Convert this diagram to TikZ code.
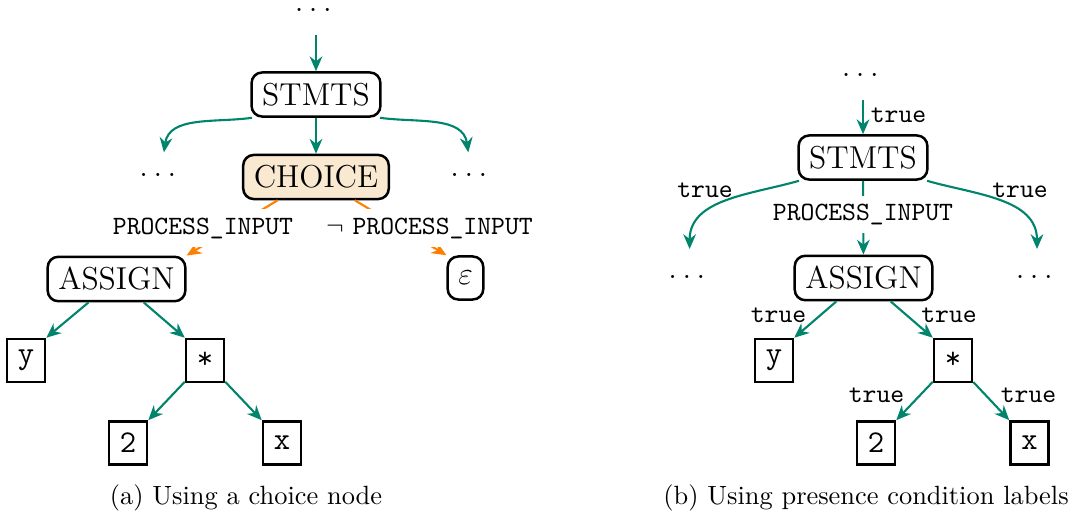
\documentclass[tikz,border=0pt]{standalone}
\usetikzlibrary{arrows.meta}

\definecolor{edgegreen}{RGB}{0,133,108}
\definecolor{condorange}{RGB}{255,128,0}
\definecolor{choicefill}{RGB}{249,233,208}

% spaced ellipsis: three periods with a kern after each
\newcommand{\spdots}{.\kern2.1pt.\kern2.1pt.\kern2.1pt}

\tikzset{
  rnode/.style={draw, line width=0.95pt, rounded corners=4pt, font=\large, inner sep=4pt, minimum height=16.3pt},
  leaf/.style={draw, line width=0.95pt, font=\large\ttfamily, inner sep=4pt, minimum height=16.3pt, minimum width=14.4pt},
  dotsnode/.style={font=\large, inner sep=0pt, text height=9pt, text depth=8.5pt, anchor=base},
  tip/.style={-{Stealth[length=5.6pt,width=4.8pt]}},
  gedge/.style={tip, thick, draw=edgegreen},
  oedge/.style={tip, thick, draw=condorange},
  cond/.style={fill=white, inner xsep=2pt, inner ysep=3.2pt},
  pclabel/.style={font=\ttfamily, inner sep=0pt},
  caption/.style={anchor=base}
}

\begin{document}
\begin{tikzpicture}[x=0.3788pt, y=-0.3788pt]
\useasboundingbox (0,0) rectangle (1092,515);

% ---------- (a) choice node ----------
\node[dotsnode, text height=3pt] (topA) at (316,11.6) {\spdots};
\node[rnode] (stmtsA) at (316,94.5) {STMTS};
\node[dotsnode] (leftA) at (160.6,176.6) {\spdots};
\node[rnode, fill=choicefill] (choice) at (316,177) {CHOICE};
\node[dotsnode] (rightA) at (471.6,176.6) {\spdots};
\node[rnode] (assignA) at (116.5,279) {ASSIGN};
\node[rnode] (eps) at (465.5,278) {$\varepsilon$};
\node[leaf] (yA) at (26,360.5) {y};
\node[leaf] (starA) at (205,360.5) {*};
\node[leaf] (twoA) at (128,443) {2};
\node[leaf] (xA) at (282,443) {x};

\draw[gedge] (topA) -- (stmtsA);
\draw[gedge] (stmtsA) -- (choice);
\draw[gedge] (stmtsA.200) to[out=188, in=82] (leftA);
\draw[gedge] (stmtsA.340) to[out=-8, in=98] (rightA);

\draw[oedge] (choice) -- (assignA.north east);
\draw[oedge] (choice) -- (eps.north west);
\node[cond] (pA) at (203,228) {\texttt{PROCESS\_INPUT}};
\node[cond] (npA) at (429.5,228) {$\neg$ \texttt{PROCESS\_INPUT}};

\draw[gedge] (assignA) -- (yA.north east);
\draw[gedge] (assignA) -- (starA.north west);
\draw[gedge] (starA) -- (twoA.north east);
\draw[gedge] (starA) -- (xA.north west);

\node[caption] (capA) at (246,504) {(a) Using a choice node};

% ---------- (b) presence condition labels ----------
\node[dotsnode] (topB) at (863,76.6) {\spdots};
\node[rnode] (stmtsB) at (863,157.5) {STMTS};
\node[dotsnode, text height=11pt] (leftB) at (689.6,278.6) {\spdots};
\node[rnode] (assignB) at (863.5,278) {ASSIGN};
\node[dotsnode, text height=11pt] (rightB) at (1037,278.6) {\spdots};
\node[leaf] (yB) at (774,360.5) {y};
\node[leaf] (starB) at (953,360.5) {*};
\node[leaf] (twoB) at (876,443) {2};
\node[leaf] (xB) at (1029.5,443) {x};

\draw[gedge] (topB) -- (stmtsB);
\draw[gedge] (stmtsB.200) to[out=196, in=90] (leftB);
\draw[gedge] (stmtsB.340) to[out=-16, in=90] (rightB);
\draw[gedge] (stmtsB) -- (assignB);
\node[cond] (pB) at (863,214.5) {\texttt{PROCESS\_INPUT}};

\draw[gedge] (assignB) -- (yB.north east);
\draw[gedge] (assignB) -- (starB.north west);
\draw[gedge] (starB) -- (twoB.north east);
\draw[gedge] (starB) -- (xB.north west);

\node[pclabel] (tTop) at (898.5,115) {true};
\node[pclabel] (tLeft) at (705,190) {true};
\node[pclabel] (tRight) at (1020,190) {true};
\node[pclabel] (tY) at (778.5,315) {true};
\node[pclabel] (tStar) at (949,315) {true};
\node[pclabel] (tTwo) at (876.5,395) {true};
\node[pclabel] (tX) at (1028.5,395) {true};

\node[caption] (capB) at (866,504) {(b) Using presence condition labels};
\end{tikzpicture}
\end{document}
